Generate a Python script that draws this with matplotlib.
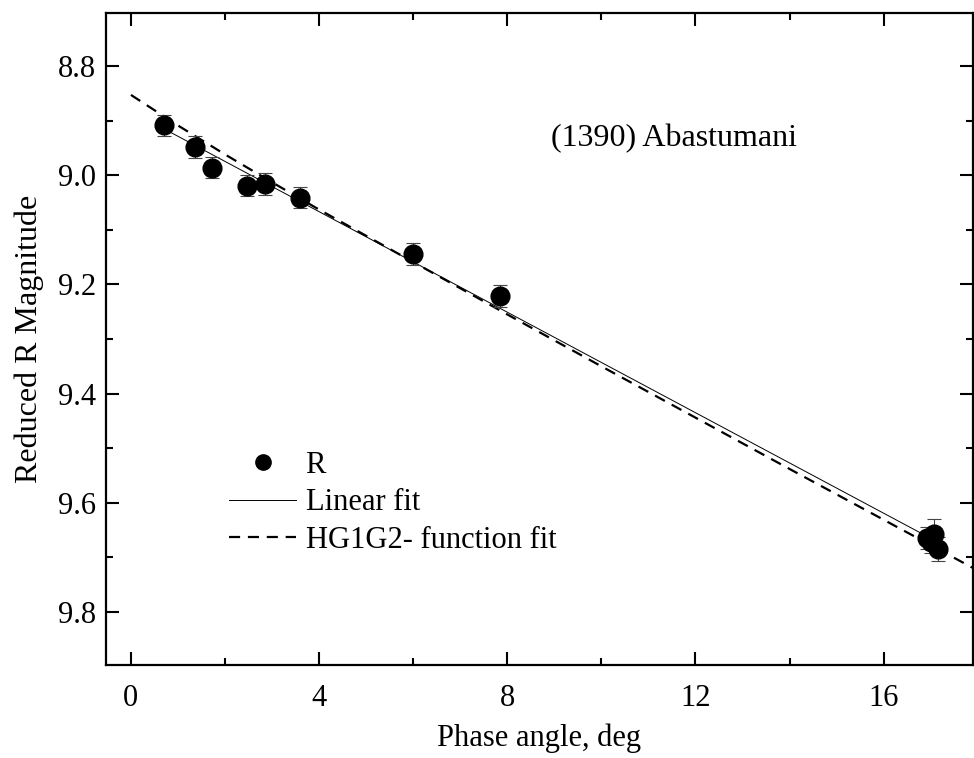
import matplotlib
matplotlib.use("Agg")
import matplotlib.pyplot as plt
from matplotlib.lines import Line2D
import numpy as np

# Observed reduced R magnitudes
phase = [0.70, 1.36, 1.72, 2.47, 2.85, 3.60, 6.00, 7.85, 16.93, 17.00, 17.08, 17.15]
mag = [8.909, 8.948, 8.986, 9.019, 9.016, 9.041, 9.144, 9.221, 9.664, 9.672, 9.657, 9.684]
mag_err = [0.02, 0.02, 0.02, 0.02, 0.02, 0.02, 0.02, 0.02, 0.02, 0.02, 0.027, 0.022]

# Linear fit
lin_x = [0.70, 17.0]
lin_y = [8.915, 9.665]

# HG1G2 fit
hg_x = [0, 1, 2, 3, 4, 6, 8, 10, 12, 14, 16, 18]
hg_y = [8.853, 8.909, 8.962, 9.013, 9.063, 9.159, 9.255, 9.350, 9.444, 9.538, 9.631, 9.724]

xticks = [0, 4, 8, 12, 16]
yticks = [8.8, 9.0, 9.2, 9.4, 9.6, 9.8]

plt.rcParams['font.family'] = ['Liberation Serif', 'DejaVu Serif']

fig = plt.figure(figsize=(9.74, 7.58), dpi=100)
ax = fig.add_axes([106/974, 1-665/758, (973-106)/974, (665-13)/758])

ax.plot(lin_x, lin_y, '-', color='black', lw=0.7, zorder=2)
ax.plot(hg_x, hg_y, '--', color='black', lw=1.6, dashes=(5, 3.5), zorder=2)
ax.errorbar(phase, mag, yerr=mag_err, fmt='o', color='black', ms=13.5,
            ecolor='#444444', elinewidth=0.8, capsize=5, capthick=0.8, zorder=3)

ax.set_xlim(-0.53, 17.9)
ax.set_ylim(9.897, 8.703)
ax.set_xticks(xticks)
ax.set_xticklabels([str(t) for t in xticks])
ax.set_xticks([2, 6, 10, 14], minor=True)
ax.set_yticks(yticks)
ax.set_yticklabels([f"{t:.1f}" for t in yticks])
ax.set_yticks([8.9, 9.1, 9.3, 9.5, 9.7], minor=True)

ax.tick_params(which='both', direction='in', top=True, right=True, labelsize=22, width=1.5)
ax.tick_params(which='major', length=9.5)
ax.tick_params(which='minor', length=5)
ax.tick_params(axis='x', which='major', pad=14)
ax.tick_params(axis='y', which='major', pad=7)
for s in ax.spines.values():
    s.set_linewidth(1.6)

ax.set_xlabel('Phase angle, deg', fontsize=22, labelpad=7)
ax.set_ylabel('Reduced R Magnitude', fontsize=23, labelpad=10)

ax.text(11.55, 8.933, '(1390) Abastumani', fontsize=23, ha='center', va='center')

handles = [
    Line2D([], [], ls='none', marker='o', color='black', ms=11),
    Line2D([], [], ls='-', color='black', lw=0.7),
    Line2D([], [], ls='--', color='black', lw=1.6, dashes=(5, 3.5)),
]
labels = ['R', 'Linear fit', 'HG1G2- function fit']
ax.legend(handles, labels, loc='upper left',
          bbox_to_anchor=(0.142, 0.328), frameon=False, fontsize=22,
          handlelength=2.2, handletextpad=0.3, labelspacing=0.27, borderpad=0, borderaxespad=0)

fig.savefig('out.png', dpi=100)
